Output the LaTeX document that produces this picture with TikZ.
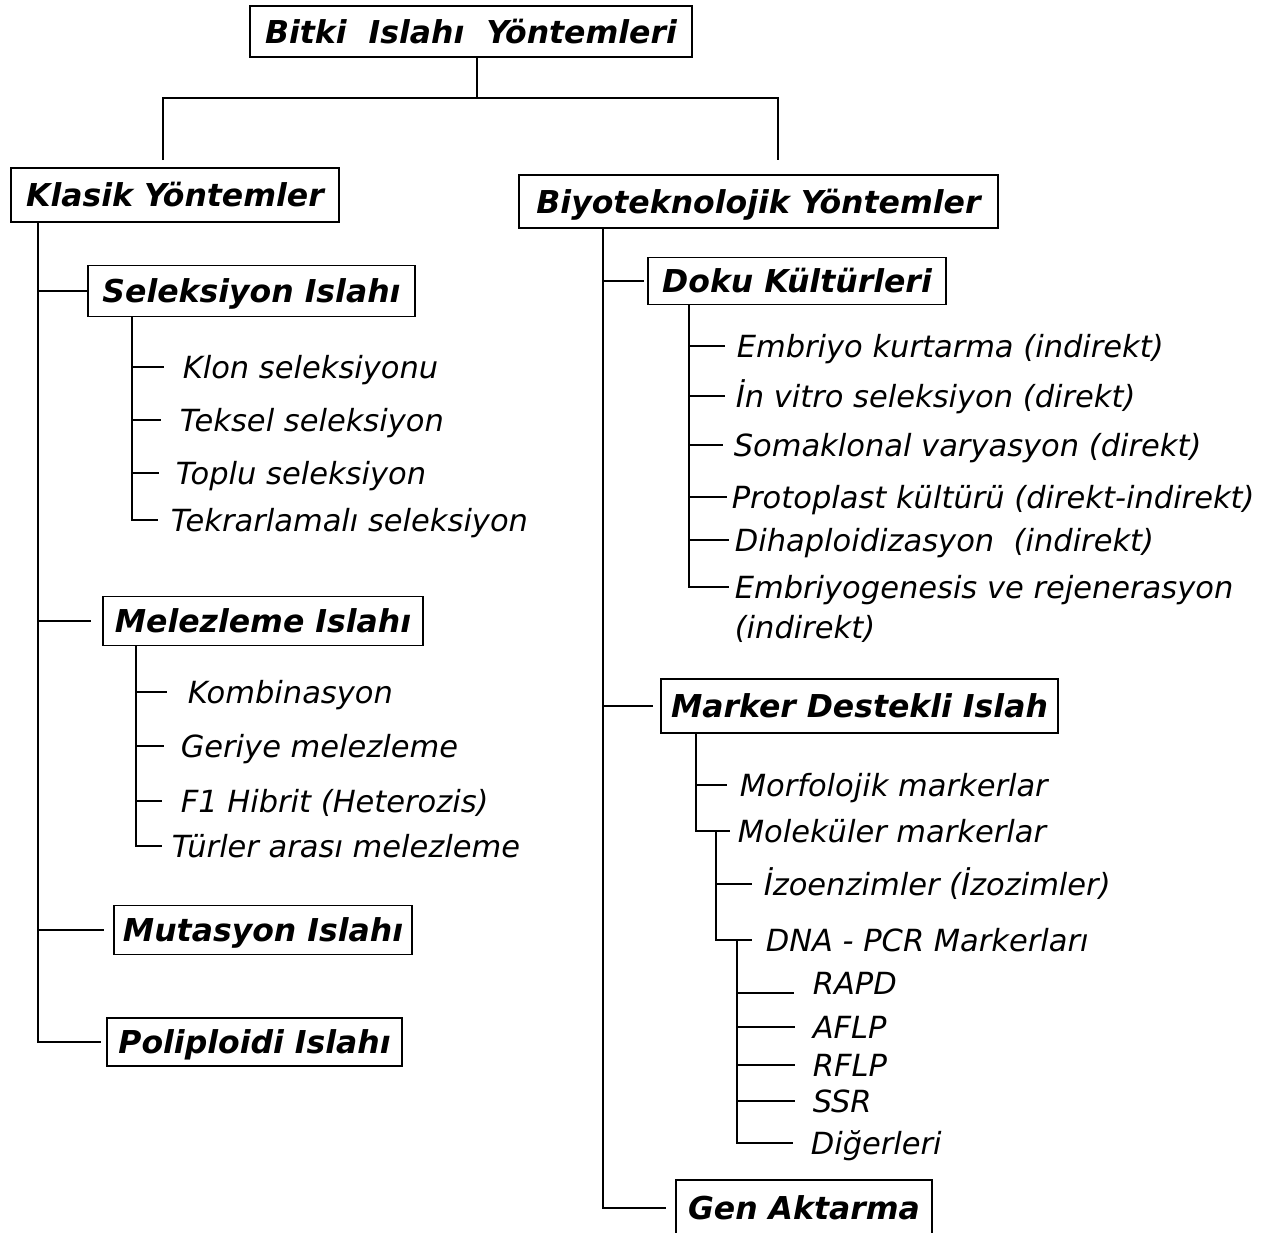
\documentclass[tikz,border=0pt]{standalone}
\usepackage{fontspec}
\setmainfont{DejaVu Sans}
\usepackage{tikz}
\tikzset{box/.style={draw, line width=1.5pt, inner sep=0pt, text height=23pt, text depth=0pt,
    font=\fontsize{31.5}{36}\selectfont\bfseries\itshape}}
\tikzset{leaf/.style={anchor=west, inner sep=0pt, text height=22pt, text depth=0pt,
    font=\fontsize{30.5}{40}\selectfont\itshape}}

\begin{document}
\begin{tikzpicture}[x=1pt, y=-1pt, line width=1.6pt]
      \useasboundingbox (0,0) rectangle (1268,1232);

      % boxes
      \node[box, minimum width=442pt, minimum height=51pt] (root) at (471, 31.5) {Bitki\ \ Islahı\ \ Yöntemleri};
      \node[box, minimum width=328pt, minimum height=54pt] (klasik) at (175, 195) {Klasik Yöntemler};
      \node[box, minimum width=479pt, minimum height=53pt] (biyo) at (758.5, 201.5) {Biyoteknolojik Yöntemler};
      \node[box, minimum width=327pt, minimum height=51pt] (sel) at (251.5, 291) {Seleksiyon Islahı};
      \node[box, minimum width=320pt, minimum height=49pt] (mel) at (263, 621) {Melezleme Islahı};
      \node[box, minimum width=298pt, minimum height=49pt] (mut) at (263, 930) {Mutasyon Islahı};
      \node[box, minimum width=295pt, minimum height=48pt] (pol) at (254.5, 1042) {Poliploidi Islahı};
      \node[box, minimum width=298pt, minimum height=47pt] (doku) at (797, 281) {Doku Kültürleri};
      \node[box, minimum width=397pt, minimum height=54pt] (mark) at (859.5, 706) {Marker Destekli Islah};
      \node[box, minimum width=256pt, minimum height=56pt] (gen) at (804, 1208) {Gen Aktarma};

      % leaves
      \node[leaf] (klon) at (182, 367) {Klon seleksiyonu};
      \node[leaf] (teksel) at (179, 420) {Teksel seleksiyon};
      \node[leaf] (toplu) at (175, 473) {Toplu seleksiyon};
      \node[leaf] (tekrar) at (170, 520) {Tekrarlamalı seleksiyon};

      \node[leaf] (komb) at (187, 692) {Kombinasyon};
      \node[leaf] (geri) at (180, 746) {Geriye melezleme};
      \node[leaf] (fbir) at (180, 801) {F1 Hibrit (Heterozis)};
      \node[leaf] (turler) at (171, 846) {Türler arası melezleme};

      \node[leaf] (embr) at (736, 346) {Embriyo kurtarma (indirekt)};
      \node[leaf] (invit) at (735, 396) {İn vitro seleksiyon (direkt)};
      \node[leaf] (soma) at (733, 445) {Somaklonal varyasyon (direkt)};
      \node[leaf] (proto) at (731, 497) {Protoplast kültürü (direkt-indirekt)};
      \node[leaf] (dihap) at (734, 540) {Dihaploidizasyon\ \ (indirekt)};
      \node[anchor=north west, inner sep=0pt, align=left, font=\fontsize{30.5}{40}\selectfont\itshape]
        (regen) at (734, 575) {Embriyogenesis ve rejenerasyon\\(indirekt)};

      \node[leaf] (morf) at (739, 785) {Morfolojik markerlar};
      \node[leaf] (molek) at (737, 831) {Moleküler markerlar};
      \node[leaf] (izo) at (763, 884) {İzoenzimler (İzozimler)};
      \node[leaf] (dna) at (765, 940) {DNA - PCR Markerları};
      \node[leaf] (rapd) at (812, 983) {RAPD};
      \node[leaf] (aflp) at (812, 1027) {AFLP};
      \node[leaf] (rflp) at (812, 1065) {RFLP};
      \node[leaf] (ssr) at (812, 1101) {SSR};
      \node[leaf] (diger) at (810, 1143) {Diğerleri};

      % trunks
      \coordinate (split) at (477, 98);
      \coordinate (kl) at (163, 160);
      \coordinate (bi) at (778, 160);
      \coordinate (kt) at (38, 0);
      \coordinate (bt) at (603, 0);
      \coordinate (st) at (132, 0);
      \coordinate (mt) at (136, 0);
      \coordinate (dt) at (689, 0);
      \coordinate (mkt) at (696, 0);
      \coordinate (molt) at (716, 0);
      \coordinate (dnat) at (737, 0);

      \draw (root.south -| split) -- (split);
      \draw (kl) |- (split) -| (bi);

      \draw[shorten >=5pt] (klasik.south -| kt) |- (pol.west);
      \draw (sel.west -| kt) -- (sel.west);
      \draw[shorten >=11pt] (mel.west -| kt) -- (mel.west);
      \draw[shorten >=9pt] (mut.west -| kt) -- (mut.west);

      \draw[shorten >=9pt] (biyo.south -| bt) |- (gen.west);
      \draw[shorten >=3pt] (doku.west -| bt) -- (doku.west);
      \draw[shorten >=7pt] (mark.west -| bt) -- (mark.west);

      \draw[shorten >=12pt] (sel.south -| st) |- (tekrar.west);
      \draw[shorten >=18pt] (klon.west -| st) -- (klon.west);
      \draw[shorten >=18pt] (teksel.west -| st) -- (teksel.west);
      \draw[shorten >=16pt] (toplu.west -| st) -- (toplu.west);

      \draw[shorten >=9pt] (mel.south -| mt) |- (turler.west);
      \draw[shorten >=20pt] (komb.west -| mt) -- (komb.west);
      \draw[shorten >=16pt] (geri.west -| mt) -- (geri.west);
      \draw[shorten >=18pt] (fbir.west -| mt) -- (fbir.west);

      \draw[shorten >=5pt] (doku.south -| dt) |- ([yshift=-12pt]regen.north west);
      \draw[shorten >=11pt] (embr.west -| dt) -- (embr.west);
      \draw[shorten >=10pt] (invit.west -| dt) -- (invit.west);
      \draw[shorten >=10pt] (soma.west -| dt) -- (soma.west);
      \draw[shorten >=4pt] (proto.west -| dt) -- (proto.west);
      \draw[shorten >=5pt] (dihap.west -| dt) -- (dihap.west);

      \draw[shorten >=7pt] (mark.south -| mkt) |- (molek.west);
      \draw[shorten >=12pt] (morf.west -| mkt) -- (morf.west);

      \draw[shorten >=13pt] (molek.west -| molt) |- (dna.west);
      \draw[shorten >=11pt] (izo.west -| molt) -- (izo.west);

      \draw[shorten >=17pt] (dna.west -| dnat) |- (diger.west);
      \draw[shorten >=18pt] ([yshift=-10pt]rapd.west -| dnat) -- ([yshift=-10pt]rapd.west);
      \draw[shorten >=17pt] (aflp.west -| dnat) -- (aflp.west);
      \draw[shorten >=17pt] (rflp.west -| dnat) -- (rflp.west);
      \draw[shorten >=17pt] (ssr.west -| dnat) -- (ssr.west);

    \end{tikzpicture}
\end{document}
